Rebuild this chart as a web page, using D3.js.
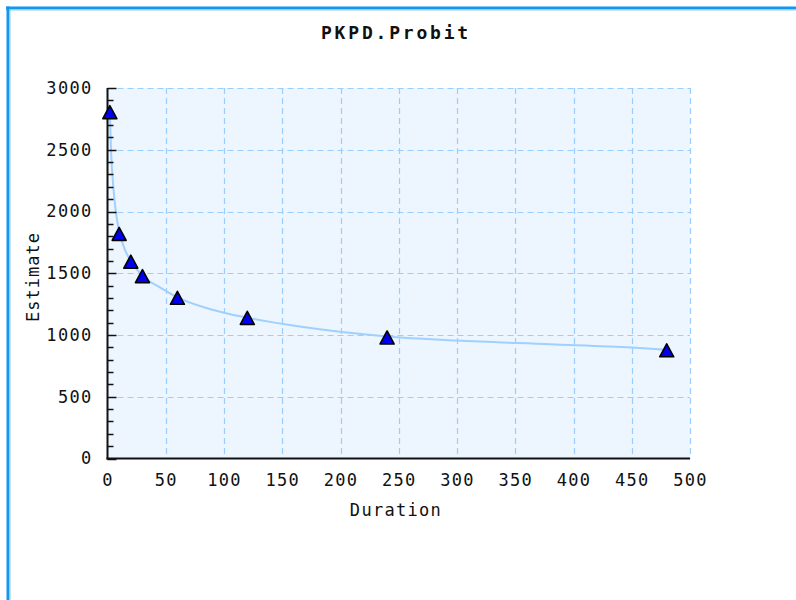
<!DOCTYPE html>
<html>
<head>
<meta charset="utf-8">
<script src="https://cdn.jsdelivr.net/npm/d3@7"></script>
<style>
  html, body { margin: 0; padding: 0; background: #ffffff; }
  svg { display: block; }
  text { font-family: "DejaVu Sans Mono", monospace; fill: #111; }
</style>
</head>
<body>
<script>
// ---- data ----
const title = "PKPD.Probit";
const xLabel = "Duration";
const yLabel = "Estimate";
const durations = [2, 10, 20, 30, 60, 120, 240, 480];
const estimates = [2800, 1815, 1590, 1472, 1297, 1135, 976, 872];
const fitDurations = [2, 3, 5, 7, 10, 15, 20, 30, 45, 60, 90, 120, 165, 240, 300, 380, 450, 480];
const fitEstimates = [2800, 2500, 2200, 2010, 1840, 1690, 1600, 1480, 1385, 1305, 1205, 1140, 1068, 988, 955, 925, 898, 880];
const xTicks = [0, 50, 100, 150, 200, 250, 300, 350, 400, 450, 500];
const yTicks = [0, 500, 1000, 1500, 2000, 2500, 3000];
const yMinorTicks = d3.range(0, 3001, 100);

const W = 796, H = 600;
const svg = d3.select("body").append("svg").attr("width", W).attr("height", H);

// frame
svg.append("line").attr("x1", 6).attr("x2", W).attr("y1", 8).attr("y2", 8)
  .attr("stroke", "#1296f0").attr("stroke-width", 3);
svg.append("line").attr("x1", 6).attr("x2", W).attr("y1", 10).attr("y2", 10)
  .attr("stroke", "#8fd0ff").attr("stroke-width", 1);
svg.append("line").attr("x1", 8).attr("x2", 8).attr("y1", 6.5).attr("y2", H)
  .attr("stroke", "#1296f0").attr("stroke-width", 3);
svg.append("line").attr("x1", 10).attr("x2", 10).attr("y1", 9.5).attr("y2", H)
  .attr("stroke", "#8fd0ff").attr("stroke-width", 1);

const x = d3.scaleLinear().domain([0, 500]).range([107.5, 690]);
const y = d3.scaleLinear().domain([0, 3000]).range([458.5, 88]);

// plot background
svg.append("rect").attr("x", x(0)).attr("y", y(3000))
  .attr("width", x(500) - x(0)).attr("height", y(0) - y(3000))
  .attr("fill", "#edf6fe");

// grid
const grid = svg.append("g").attr("stroke", "#9ccdff").attr("stroke-width", 1.2)
  .attr("stroke-dasharray", "6,4");
grid.selectAll(".gx").data(xTicks.filter(d => d > 0)).join("line")
  .attr("x1", d => Math.round(x(d)) + 0.5).attr("x2", d => Math.round(x(d)) + 0.5)
  .attr("y1", y(3000)).attr("y2", y(0));
grid.selectAll(".gy").data(yTicks.filter(d => d > 0)).join("line")
  .attr("x1", x(0)).attr("x2", x(500))
  .attr("y1", d => Math.round(y(d)) + 0.5).attr("y2", d => Math.round(y(d)) + 0.5);

// fitted curve
const line = d3.line().x((d, i) => x(fitDurations[i])).y((d, i) => y(fitEstimates[i]))
  .curve(d3.curveMonotoneX);
svg.append("path").datum(fitDurations).attr("d", line)
  .attr("fill", "none").attr("stroke", "#9fd0ff").attr("stroke-width", 2);

const fmt = d3.format("d");

// y axis
const yAxis = d3.axisLeft(y).tickValues(yTicks).tickFormat(fmt).tickSize(0).tickPadding(15);
const ya = svg.append("g").attr("transform", `translate(${x(0)},0)`).call(yAxis);
ya.select(".domain").remove();
ya.selectAll("text").attr("font-size", 17).attr("letter-spacing", "1.3px")
  .attr("font-family", "DejaVu Sans Mono").attr("fill", "#111");
svg.append("g").selectAll("line").data(yMinorTicks).join("line")
  .attr("x1", x(0)).attr("x2", d => x(0) + (d % 500 === 0 ? 9 : 6))
  .attr("y1", d => Math.round(y(d)) + 0.5).attr("y2", d => Math.round(y(d)) + 0.5)
  .attr("stroke", "#111").attr("stroke-width", 1.5);
svg.append("line").attr("x1", x(0)).attr("x2", x(0)).attr("y1", y(3000)).attr("y2", y(0) + 1)
  .attr("stroke", "#111").attr("stroke-width", 2);

// x axis
const xAxis = d3.axisBottom(x).tickValues(xTicks).tickFormat(fmt).tickSize(0).tickPadding(15);
const xa = svg.append("g").attr("transform", `translate(0,${y(0)})`).call(xAxis);
xa.select(".domain").remove();
xa.selectAll("text").attr("font-size", 17).attr("letter-spacing", "1.3px")
  .attr("font-family", "DejaVu Sans Mono").attr("fill", "#111");
svg.append("line").attr("x1", x(0) - 1).attr("x2", x(500)).attr("y1", y(0)).attr("y2", y(0))
  .attr("stroke", "#111").attr("stroke-width", 2);

// markers
const tri = "M0,-7L7,6L-7,6Z";
svg.append("g").selectAll("path").data(durations).join("path")
  .attr("d", tri)
  .attr("transform", (d, i) => `translate(${x(d)},${y(estimates[i])})`)
  .attr("fill", "#0000ee").attr("stroke", "#000").attr("stroke-width", 1.6)
  .attr("stroke-linejoin", "round");

// labels
svg.append("text").attr("x", 396).attr("y", 39).attr("text-anchor", "middle")
  .attr("font-size", 18).attr("font-weight", "bold").attr("letter-spacing", "2.8px").text(title);
svg.append("text").attr("x", 396).attr("y", 516).attr("text-anchor", "middle")
  .attr("font-size", 17).attr("letter-spacing", "1.3px").text(xLabel);
svg.append("text").attr("transform", "translate(39,277) rotate(-90)").attr("text-anchor", "middle")
  .attr("font-size", 17).attr("letter-spacing", "1px").text(yLabel);
</script>
</body>
</html>
